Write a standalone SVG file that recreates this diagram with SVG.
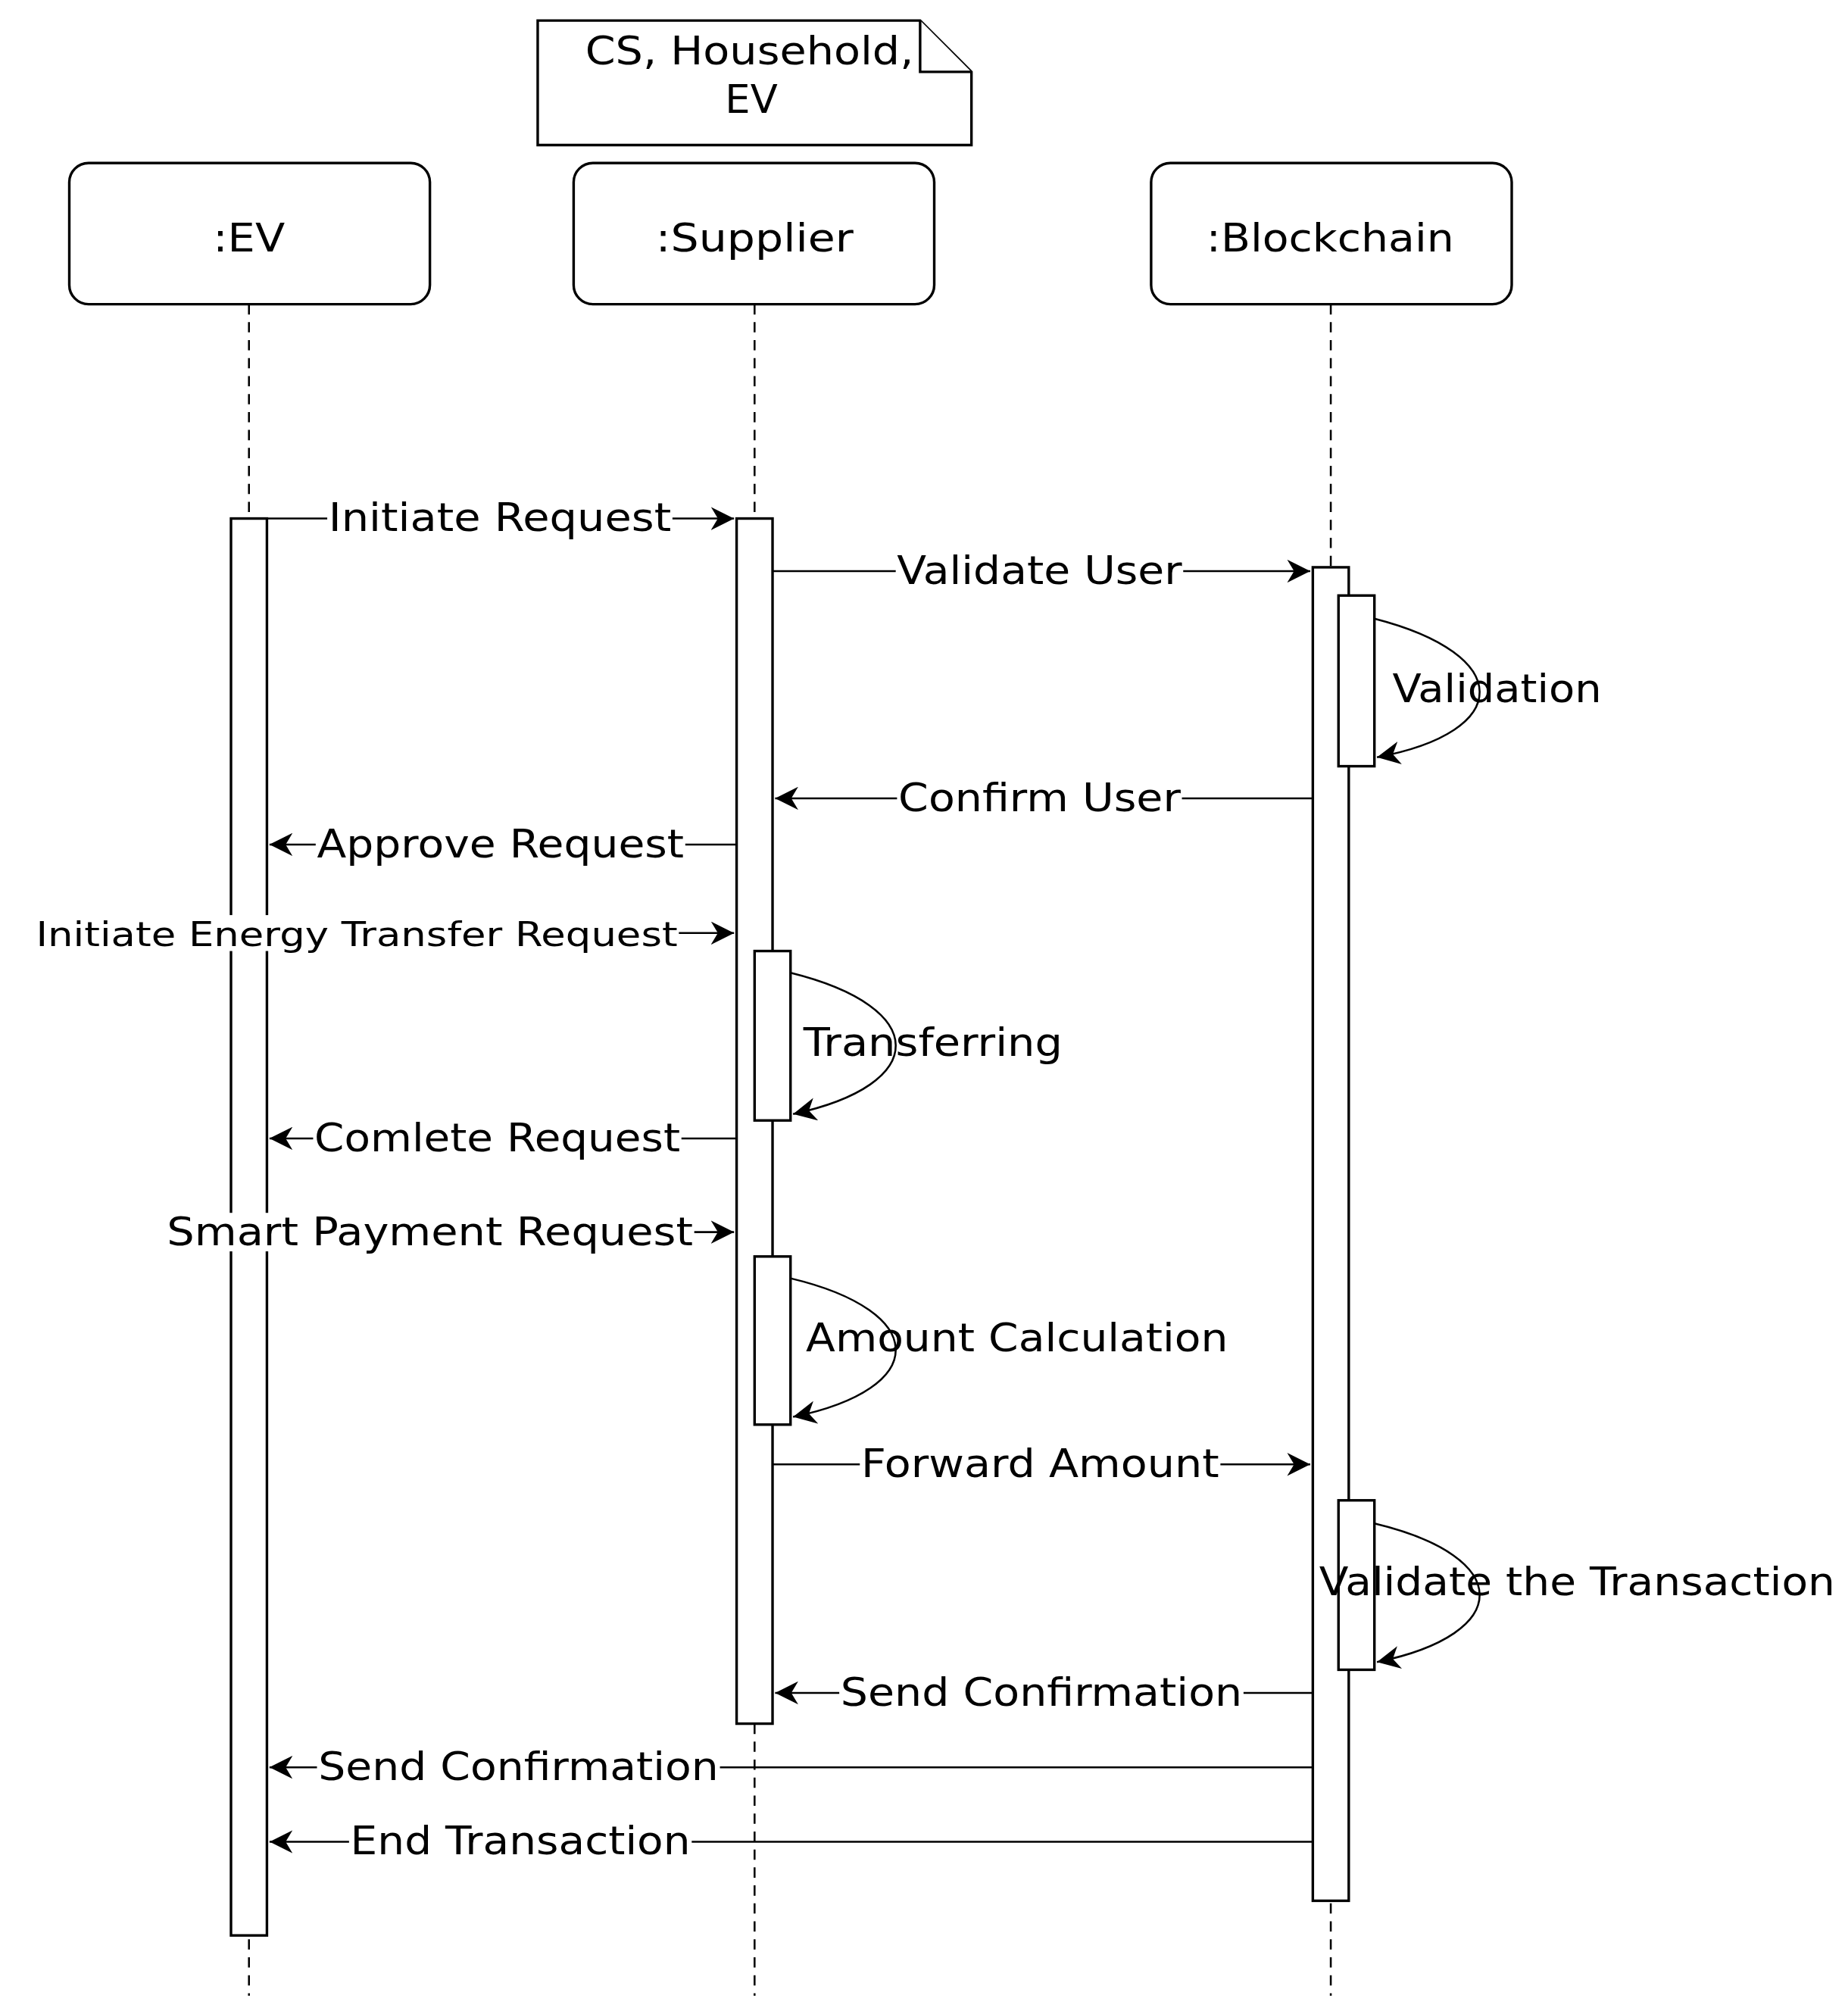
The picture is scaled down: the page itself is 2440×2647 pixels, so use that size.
<svg xmlns="http://www.w3.org/2000/svg" width="2440" height="2647" viewBox="0 0 2440 2647">
<style>
.b{fill:#fff;stroke:#000;stroke-width:2}
.ll{stroke:#000;stroke-width:1.5;stroke-dasharray:8 6;fill:none}
.m{stroke:#000;stroke-width:1.5;fill:none;marker-end:url(#a)}
.t{font-family:"DejaVu Sans",sans-serif;font-size:30px;fill:#000}
.s{font-size:26px}
.w{fill:#fff}
</style>
<defs>
<marker id="a" viewBox="0 0 10 10" refX="10" refY="5" markerWidth="18" markerHeight="18" markerUnits="userSpaceOnUse" orient="auto"><path d="M0,0L10,5L0,10L3,5Z" fill="#000"/></marker>
</defs>
<rect width="2440" height="2647" fill="#fff"/>
<g transform="scale(1.6944)">
<g id="note">
<path class="b" d="M419,16H717L757,56V113H419Z"/>
<path class="b" d="M717,16V56H757" fill="none"/>
<text class="t" x="456" y="50" textLength="256" lengthAdjust="spacingAndGlyphs">CS, Household,</text>
<text class="t" x="565" y="88" textLength="41" lengthAdjust="spacingAndGlyphs">EV</text>
</g>
<g id="lifelines">
<line class="ll" x1="194" y1="237" x2="194" y2="1555"/>
<line class="ll" x1="588" y1="237" x2="588" y2="1555"/>
<line class="ll" x1="1037" y1="237" x2="1037" y2="1555"/>
</g>
<g id="ev"><rect class="b" x="54" y="127" width="281" height="110" rx="15"/><text class="t" x="166" y="196" textLength="56" lengthAdjust="spacingAndGlyphs">:EV</text></g>
<g id="supplier"><rect class="b" x="447" y="127" width="281" height="110" rx="15"/><text class="t" x="511" y="196" textLength="154" lengthAdjust="spacingAndGlyphs">:Supplier</text></g>
<g id="blockchain"><rect class="b" x="897" y="127" width="281" height="110" rx="15"/><text class="t" x="940" y="196" textLength="193" lengthAdjust="spacingAndGlyphs">:Blockchain</text></g>
<g id="activations">
<rect class="b" x="180" y="404" width="28" height="1104"/>
<rect class="b" x="574" y="404" width="28" height="939"/>
<rect class="b" x="1023" y="442" width="28" height="1039"/>
<rect class="b" x="1043" y="464" width="28" height="133"/>
<rect class="b" x="1043" y="1169" width="28" height="132"/>
<rect class="b" x="588" y="741" width="28" height="132"/>
<rect class="b" x="588" y="979" width="28" height="131"/>
</g>
<g id="connectors">
<line class="m" x1="208" y1="404" x2="572" y2="404"/>
<line class="m" x1="602" y1="445" x2="1021" y2="445"/>
<path class="m" d="M1071,482C1180,510 1180,570 1073,590"/>
<line class="m" x1="1023" y1="622" x2="604" y2="622"/>
<line class="m" x1="574" y1="658" x2="210" y2="658"/>
<line class="m" x1="208" y1="727" x2="572" y2="727"/>
<path class="m" d="M616,758C725,785 725,845 618,868"/>
<line class="m" x1="574" y1="887" x2="210" y2="887"/>
<line class="m" x1="208" y1="960" x2="572" y2="960"/>
<path class="m" d="M616,996C725,1022 725,1082 618,1104"/>
<line class="m" x1="602" y1="1141" x2="1021" y2="1141"/>
<path class="m" d="M1071,1187C1180,1213 1180,1273 1073,1295"/>
<line class="m" x1="1023" y1="1319" x2="604" y2="1319"/>
<line class="m" x1="1023" y1="1377" x2="210" y2="1377"/>
<line class="m" x1="1023" y1="1435" x2="210" y2="1435"/>
</g>
<g id="labels">
<rect class="w" x="255" y="389" width="269" height="30"/><text class="t" x="256" y="414" textLength="267" lengthAdjust="spacingAndGlyphs">Initiate Request</text>
<rect class="w" x="698" y="430" width="224" height="30"/><text class="t" x="699" y="455" textLength="222" lengthAdjust="spacingAndGlyphs">Validate User</text>
<text class="t" x="1085" y="547" textLength="163" lengthAdjust="spacingAndGlyphs">Validation</text>
<rect class="w" x="699" y="607" width="222" height="30"/><text class="t" x="700" y="632" textLength="220" lengthAdjust="spacingAndGlyphs">Confirm User</text>
<rect class="w" x="246" y="643" width="288" height="30"/><text class="t" x="247" y="668" textLength="286" lengthAdjust="spacingAndGlyphs">Approve Request</text>
<rect class="w" x="27" y="713" width="502" height="28"/><text class="t s" x="28" y="737" textLength="500" lengthAdjust="spacingAndGlyphs">Initiate Energy Transfer Request</text>
<text class="t" x="626" y="823" textLength="202" lengthAdjust="spacingAndGlyphs">Transferring</text>
<rect class="w" x="244" y="872" width="287" height="30"/><text class="t" x="245" y="897" textLength="285" lengthAdjust="spacingAndGlyphs">Comlete Request</text>
<rect class="w" x="129" y="945" width="412" height="30"/><text class="t" x="130" y="970" textLength="410" lengthAdjust="spacingAndGlyphs">Smart Payment Request</text>
<text class="t" x="628" y="1053" textLength="329" lengthAdjust="spacingAndGlyphs">Amount Calculation</text>
<rect class="w" x="670" y="1126" width="281" height="30"/><text class="t" x="671" y="1151" textLength="279" lengthAdjust="spacingAndGlyphs">Forward Amount</text>
<text class="t" x="1028" y="1243" textLength="402" lengthAdjust="spacingAndGlyphs">Validate the Transaction</text>
<rect class="w" x="654" y="1304" width="315" height="30"/><text class="t" x="655" y="1329" textLength="313" lengthAdjust="spacingAndGlyphs">Send Confirmation</text>
<rect class="w" x="247" y="1362" width="314" height="30"/><text class="t" x="248" y="1387" textLength="312" lengthAdjust="spacingAndGlyphs">Send Confirmation</text>
<rect class="w" x="272" y="1420" width="267" height="30"/><text class="t" x="273" y="1445" textLength="265" lengthAdjust="spacingAndGlyphs">End Transaction</text>
</g>
</g>
</svg>
